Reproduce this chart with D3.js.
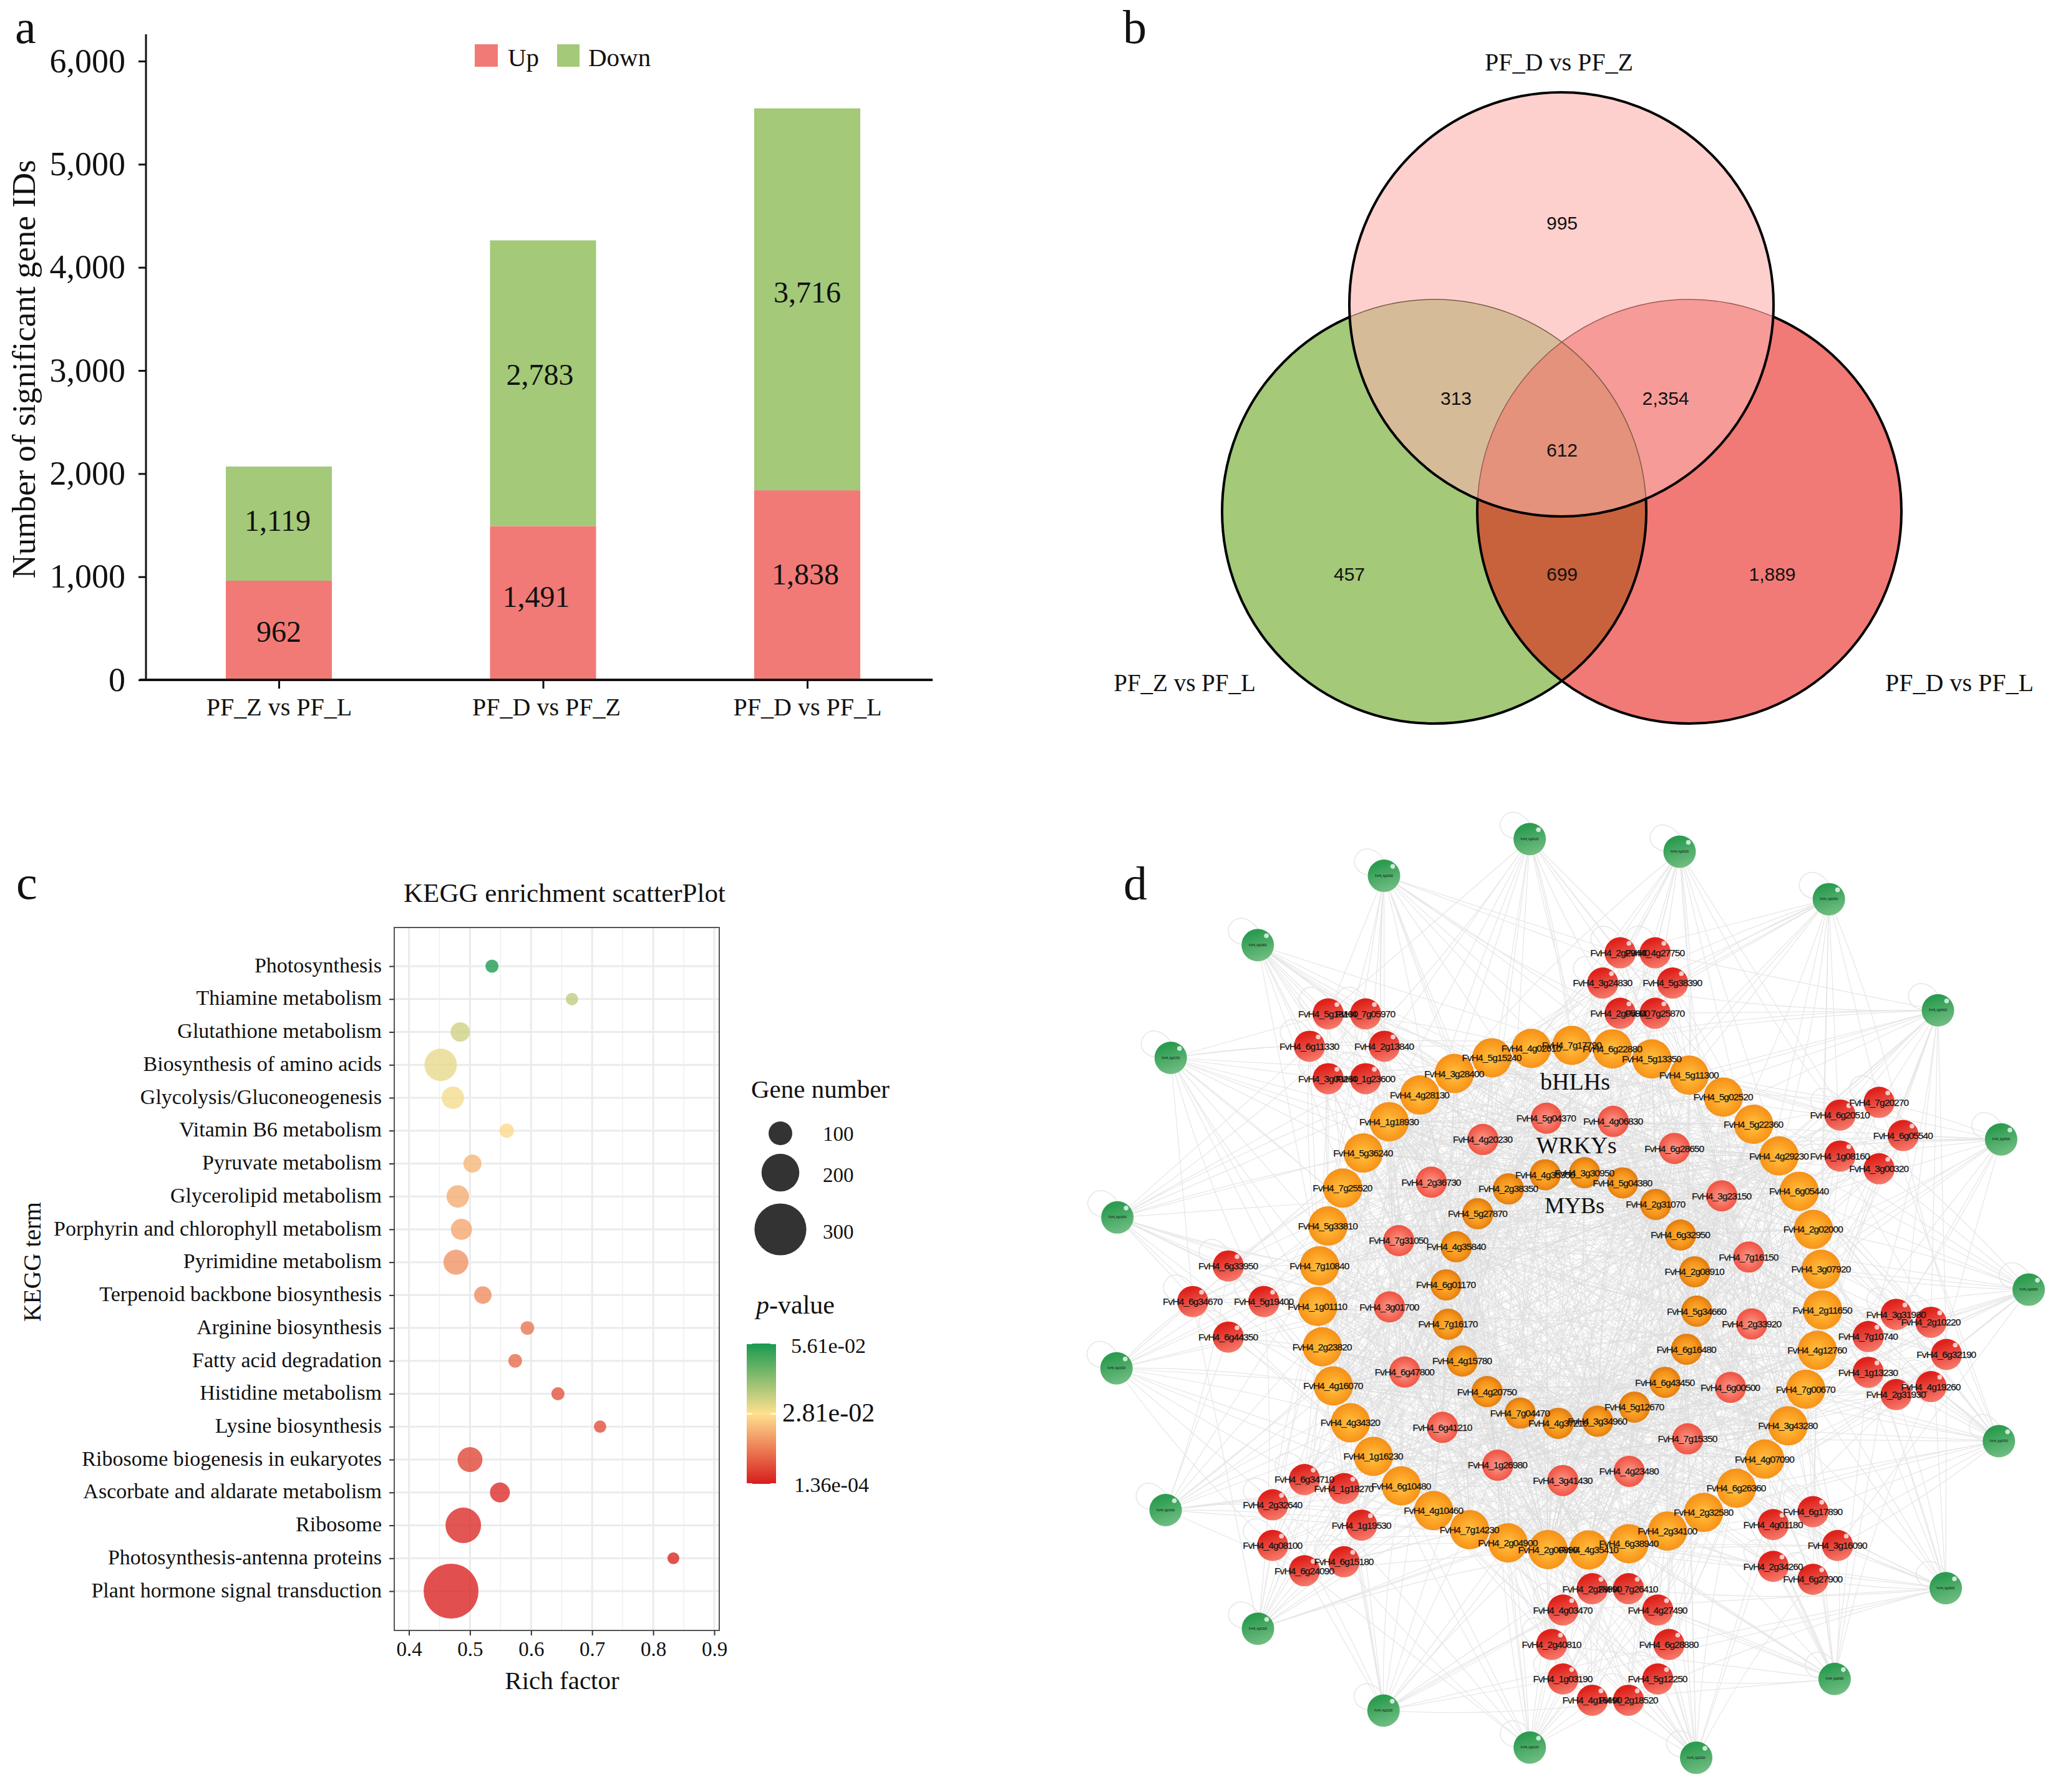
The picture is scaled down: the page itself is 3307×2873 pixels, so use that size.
<!DOCTYPE html>
<html><head><meta charset="utf-8">
<script src="https://cdn.jsdelivr.net/npm/d3@7"></script>
<style>
html,body{margin:0;padding:0;background:#fff}
svg{display:block}
text{font-family:"Liberation Serif","Times New Roman",serif;fill:#111}
.sans{font-family:"Liberation Sans",Arial,sans-serif}
</style></head><body><svg id="c" width="3307" height="2873" viewBox="0 0 3307 2873"></svg>
<script>
// ---------- data: panel a
const barCategories=["PF_Z vs PF_L","PF_D vs PF_Z","PF_D vs PF_L"];
const upValues=[962,1491,1838];
const downValues=[1119,2783,3716];
const barTicks=[0,1000,2000,3000,4000,5000,6000];
// ---------- data: panel b
const vennSets=["PF_D vs PF_Z","PF_Z vs PF_L","PF_D vs PF_L"];
const vennCounts={onlyTop:995,topLeft:313,topRight:2354,all:612,onlyLeft:457,leftRight:699,onlyRight:1889};
// ---------- data: panel c
const keggTerms=["Photosynthesis","Thiamine metabolism","Glutathione metabolism","Biosynthesis of amino acids","Glycolysis/Gluconeogenesis","Vitamin B6 metabolism","Pyruvate metabolism","Glycerolipid metabolism","Porphyrin and chlorophyll metabolism","Pyrimidine metabolism","Terpenoid backbone biosynthesis","Arginine biosynthesis","Fatty acid degradation","Histidine metabolism","Lysine biosynthesis","Ribosome biogenesis in eukaryotes","Ascorbate and aldarate metabolism","Ribosome","Photosynthesis-antenna proteins","Plant hormone signal transduction"];
const richFactor=[.536,.667,.484,.452,.472,.560,.504,.480,.486,.477,.521,.594,.574,.644,.713,.500,.549,.489,.833,.469];
const geneNumber=[25,20,69,162,91,34,60,91,82,109,56,29,29,25,20,109,73,184,16,321];
const pValue=[.0561,.036,.034,.031,.0295,.027,.022,.0205,.0195,.017,.016,.0125,.011,.0075,.007,.0055,.002,.0015,.0012,.0005];
const geneLegend=[100,200,300];
const richTicks=[.4,.5,.6,.7,.8,.9];
// ---------- data: panel d
const greenGenes=["FvH4_4g00100","FvH4_4g00200","FvH4_4g00300","FvH4_4g00400","FvH4_4g00500","FvH4_4g00600","FvH4_4g00700","FvH4_4g00800","FvH4_4g00900","FvH4_4g01000","FvH4_4g01100","FvH4_4g01200","FvH4_4g01300","FvH4_4g01400","FvH4_4g01500","FvH4_4g01600","FvH4_4g01700","FvH4_4g01800","FvH4_4g01900"];
const bhlhGenes=["FvH4_7g17790","FvH4_6g22880","FvH4_5g13350","FvH4_5g11300","FvH4_5g02520","FvH4_5g22360","FvH4_4g29230","FvH4_6g05440","FvH4_2g02000","FvH4_3g07920","FvH4_2g11650","FvH4_4g12760","FvH4_7g00670","FvH4_3g43280","FvH4_4g07090","FvH4_6g26360","FvH4_2g32580","FvH4_2g34100","FvH4_6g38940","FvH4_4g35410","FvH4_2g00890","FvH4_2g04900","FvH4_7g14230","FvH4_4g10460","FvH4_6g10480","FvH4_1g16230","FvH4_4g34320","FvH4_4g16070","FvH4_2g23820","FvH4_1g01110","FvH4_7g10840","FvH4_5g33810","FvH4_7g25520","FvH4_5g36240","FvH4_1g18930","FvH4_4g28130","FvH4_3g28400","FvH4_5g15240","FvH4_4g02610"];
const wrkyGenes=["FvH4_5g04370","FvH4_4g06830","FvH4_6g28650","FvH4_3g23150","FvH4_7g16150","FvH4_2g33920","FvH4_6g00500","FvH4_7g15350","FvH4_4g23480","FvH4_3g41430","FvH4_1g26980","FvH4_6g41210","FvH4_6g47800","FvH4_3g01700","FvH4_7g31050","FvH4_2g36730","FvH4_4g20230"];
const mybGenes=["FvH4_3g30950","FvH4_5g04380","FvH4_2g31070","FvH4_6g32950","FvH4_2g08910","FvH4_5g34660","FvH4_6g16480","FvH4_6g43450","FvH4_5g12670","FvH4_3g34960","FvH4_4g37210","FvH4_7g04470","FvH4_4g20750","FvH4_4g15780","FvH4_7g16170","FvH4_6g01170","FvH4_4g35840","FvH4_5g27870","FvH4_2g38350","FvH4_4g35350"];
const redClusters=[
 ["FvH4_2g13840","FvH4_1g23600","FvH4_3g00280","FvH4_6g11330","FvH4_5g18100","FvH4_7g05970"],
 ["FvH4_5g38390","FvH4_7g25870","FvH4_2g05900","FvH4_3g24830","FvH4_2g29440","FvH4_4g27750"],
 ["FvH4_6g05540","FvH4_3g00320","FvH4_1g08160","FvH4_6g20510","FvH4_7g20270"],
 ["FvH4_6g32190","FvH4_4g19260","FvH4_2g31930","FvH4_1g13230","FvH4_7g10740","FvH4_3g31980","FvH4_2g10220"],
 ["FvH4_3g16090","FvH4_6g27900","FvH4_2g34260","FvH4_4g01180","FvH4_6g17890"],
 ["FvH4_6g28880","FvH4_5g12250","FvH4_2g18520","FvH4_4g16490","FvH4_1g03190","FvH4_2g40810","FvH4_4g03470","FvH4_2g28890","FvH4_7g26410","FvH4_4g27490"],
 ["FvH4_1g19530","FvH4_6g15180","FvH4_6g24090","FvH4_4g08100","FvH4_2g32640","FvH4_6g34710","FvH4_1g18270"],
 ["FvH4_5g19400","FvH4_6g44350","FvH4_6g34670","FvH4_6g33950"]
];
const familyLabels=["bHLHs","WRKYs","MYBs"];

const svg=d3.select("#c");
svg.append("rect").attr("width",3307).attr("height",2873).attr("fill","#fff");
const RED="#f17a76",GREEN="#a3c979";
function txt(g,x,y,s,size,anchor="middle",cls=null){
  const t=g.append("text").attr("x",x).attr("y",y).attr("dy",".35em").attr("font-size",size).attr("text-anchor",anchor).text(s);
  if(cls)t.attr("class",cls);return t;
}
[["a",24,69],["b",1800,69],["c",26,1441],["d",1801,1442]].forEach(([s,x,y])=>{
  svg.append("text").attr("x",x).attr("y",y).attr("font-size",76).text(s);
});

// ===== panel a =====
(function(){
  const g=svg.append("g");
  const y=d3.scaleLinear().domain([0,6000]).range([1090,98]);
  const x=d3.scalePoint().domain(barCategories).range([447,1294]);
  const w=170;
  const dyUp=[2,-11,-18],dyDown=[-4,-13,-11],dxUp=[0,-11,-3],dxDown=[-2,-5,0];
  barCategories.forEach((c,i)=>{
    g.append("rect").attr("x",x(c)-w/2).attr("width",w).attr("y",y(upValues[i])).attr("height",y(0)-y(upValues[i])-2).attr("fill",RED);
    g.append("rect").attr("x",x(c)-w/2).attr("width",w).attr("y",y(upValues[i]+downValues[i])+2).attr("height",y(upValues[i])-y(upValues[i]+downValues[i])-2).attr("fill",GREEN);
    const f=d3.format(",");
    txt(g,x(c)+dxUp[i],y(upValues[i]/2)+dyUp[i],f(upValues[i]),48);
    txt(g,x(c)+dxDown[i],y(upValues[i]+downValues[i]/2)+dyDown[i],f(downValues[i]),48);
  });
  const ay=g.append("g").attr("transform","translate(234,0)").call(d3.axisLeft(y).tickValues(barTicks).tickFormat(d3.format(",")).tickSize(12).tickPadding(21));
  ay.select(".domain").remove();
  ay.selectAll("line").attr("stroke","#111").attr("stroke-width",3);
  ay.selectAll("text").attr("font-size",54).attr("fill","#111");
  g.append("line").attr("x1",234).attr("x2",234).attr("y1",55).attr("y2",1090).attr("stroke","#111").attr("stroke-width",3);
  const ax=g.append("g").attr("transform","translate(0,1090)").call(d3.axisBottom(x).tickSize(14).tickPadding(15));
  ax.select(".domain").remove();
  ax.selectAll("line").attr("stroke","#111").attr("stroke-width",3);
  ax.selectAll("text").attr("font-size",40).attr("fill","#111").attr("dx",(d,i)=>i===1?5:0);
  g.append("line").attr("x1",224).attr("x2",1495).attr("y1",1090).attr("y2",1090).attr("stroke","#111").attr("stroke-width",4);
  g.append("text").attr("transform","translate(56,592) rotate(-90)").attr("text-anchor","middle").attr("font-size",53).text("Number of significant gene IDs");
  g.append("rect").attr("x",761).attr("y",71).attr("width",37).attr("height",36).attr("fill",RED);
  g.append("rect").attr("x",893).attr("y",71).attr("width",36).attr("height",36).attr("fill",GREEN);
  txt(g,814,92,"Up",41,"start");
  txt(g,943,92,"Down",41,"start");
})();

// ===== panel b =====
(function(){
  const g=svg.append("g");
  const C={top:[2503,488],left:[2299,820],right:[2708,820]},R=340;
  const defs=svg.append("defs");
  Object.entries(C).forEach(([k,c])=>{
    defs.append("clipPath").attr("id","clip-"+k).append("circle").attr("cx",c[0]).attr("cy",c[1]).attr("r",R);
  });
  const circ=(p,c,fill)=>p.append("circle").attr("cx",c[0]).attr("cy",c[1]).attr("r",R).attr("fill",fill);
  const clipped=(parent,...names)=>{let s=parent;names.forEach(n=>{s=s.append("g").attr("clip-path",`url(#clip-${n})`)});return s;};
  circ(g,C.left,GREEN);circ(g,C.right,RED);
  circ(clipped(g,"left"),C.right,"#c8623d");
  circ(g,C.left,"none").attr("stroke","#000").attr("stroke-width",4);
  circ(g,C.right,"none").attr("stroke","#000").attr("stroke-width",4);
  circ(g,C.top,"#fdd0ce");
  circ(clipped(g,"top"),C.left,"#d6bb98");
  circ(clipped(g,"top"),C.right,"#f69b97");
  circ(clipped(g,"top","left"),C.right,"#e4927c");
  const inner=clipped(g,"top");
  circ(inner,C.left,"none").attr("stroke","#7a5a48").attr("stroke-width",1.5);
  circ(inner,C.right,"none").attr("stroke","#9a5a55").attr("stroke-width",1.5);
  circ(g,C.top,"none").attr("stroke","#000").attr("stroke-width",4);
  const f=d3.format(",");
  [["onlyTop",2504,357],["topLeft",2334,638],["topRight",2670,638],["all",2504,721],["onlyLeft",2163,920],["leftRight",2504,920],["onlyRight",2841,920]].forEach(([k,x,y])=>{
    txt(g,x,y,f(vennCounts[k]),30,"middle","sans");
  });
  txt(g,2499,99,vennSets[0],40);
  txt(g,1899,1094,vennSets[1],39);
  txt(g,3141,1094,vennSets[2],40);
})();

// ===== panel c =====
(function(){
  const g=svg.append("g");
  const L=632,Rt=1153,T=1487,B=2614;
  const x=d3.scaleLinear().domain([.4,.9]).range([655.5,1145]);
  const y=d3.scalePoint().domain(keggTerms).range([1549,2551]);
  const r=d3.scaleLinear().domain([100,300]).range([19,41.6]);
  const col=d3.scaleLinear().domain([.000136,.0281,.0561]).range(["#d81c1c","#ffe08f","#189a50"]);
  d3.range(.4,.9001,.1).forEach(v=>g.append("line").attr("x1",x(v)).attr("x2",x(v)).attr("y1",T).attr("y2",B).attr("stroke","#ebebeb").attr("stroke-width",3));
  d3.range(.45,.9,.1).forEach(v=>g.append("line").attr("x1",x(v)).attr("x2",x(v)).attr("y1",T).attr("y2",B).attr("stroke","#efefef").attr("stroke-width",1.5));
  keggTerms.forEach(t=>g.append("line").attr("x1",L).attr("x2",Rt).attr("y1",y(t)).attr("y2",y(t)).attr("stroke","#ebebeb").attr("stroke-width",3));
  g.selectAll("circle.dot").data(keggTerms).join("circle").attr("class","dot")
    .attr("cx",(d,i)=>x(richFactor[i])).attr("cy",d=>y(d)).attr("r",(d,i)=>r(geneNumber[i]))
    .attr("fill",(d,i)=>col(pValue[i])).attr("fill-opacity",.78);
  g.append("rect").attr("x",L).attr("y",T).attr("width",Rt-L).attr("height",B-T).attr("fill","none").attr("stroke","#555").attr("stroke-width",2);
  const ax=g.append("g").attr("transform",`translate(0,${B})`).call(d3.axisBottom(x).tickValues(richTicks).tickFormat(d3.format(".1f")).tickSize(8).tickPadding(10));
  ax.select(".domain").remove();ax.selectAll("line").attr("stroke","#333").attr("stroke-width",2);
  ax.selectAll("text").attr("font-size",33).attr("fill","#222");
  const ay=g.append("g").attr("transform",`translate(${L},0)`).call(d3.axisLeft(y).tickSize(8).tickPadding(12));
  ay.select(".domain").remove();ay.selectAll("line").attr("stroke","#333").attr("stroke-width",2);
  ay.selectAll("text").attr("font-size",34).attr("fill","#222").attr("dy",".27em");
  txt(g,905,1431,"KEGG enrichment scatterPlot",43);
  txt(g,901,2694,"Rich factor",41);
  g.append("text").attr("transform","translate(51,2023) rotate(-90)").attr("dy",".35em").attr("text-anchor","middle").attr("font-size",39.5).text("KEGG term");
  txt(g,1204,1746,"Gene number",41,"start");
  const ly=[1817,1880,1971],lty=[1817,1883,1974];
  geneLegend.forEach((v,i)=>{
    g.append("circle").attr("cx",1251).attr("cy",ly[i]).attr("r",r(v)).attr("fill","#333");
    txt(g,1319,lty[i],String(v),33,"start");
  });
  const pt=txt(g,1212,2091,"",42,"start");
  pt.append("tspan").attr("font-style","italic").text("p");
  pt.append("tspan").text("-value");
  const by=d3.scaleLinear().domain([.000136,.0561]).range([2379,2154]);
  const grad=svg.select("defs").append("linearGradient").attr("id","pgrad").attr("x1",0).attr("x2",0).attr("y1",1).attr("y2",0);
  col.domain().forEach(v=>grad.append("stop").attr("offset",(2379-by(v))/225).attr("stop-color",col(v)));
  g.append("rect").attr("x",1197).attr("y",2154).attr("width",47).attr("height",225).attr("fill","url(#pgrad)");
  col.domain().forEach(v=>{
    [[1197,1206],[1235,1244]].forEach(([a,b])=>g.append("line").attr("x1",a).attr("x2",b).attr("y1",by(v)).attr("y2",by(v)).attr("stroke","#fff").attr("stroke-width",2));
  });
  txt(g,1268,2157,"5.61e-02",34,"start");
  txt(g,1254,2264,"2.81e-02",42,"start");
  txt(g,1273,2380,"1.36e-04",34,"start");
})();

// ===== panel d =====
(function(){
  const g=svg.append("g");
  const defs=svg.select("defs");
  const lin=(id,a,b)=>{const l=defs.append("linearGradient").attr("id",id).attr("x1",.25).attr("x2",.6).attr("y1",0).attr("y2",1);
    l.append("stop").attr("offset",.15).attr("stop-color",a);l.append("stop").attr("offset",1).attr("stop-color",b);};
  const rad=(id,stops)=>{const l=defs.append("radialGradient").attr("id",id).attr("cx",.5).attr("cy",.52).attr("r",.52);
    stops.forEach(([o,c])=>l.append("stop").attr("offset",o).attr("stop-color",c));};
  lin("gGreen","#2c9c50","#72be83");
  lin("gRed","#df221b","#f67b6c");
  rad("gOrange",[[0,"#ffc548"],[.55,"#fda526"],[1,"#f49018"]]);
  rad("gMyb",[[0,"#ffb636"],[.65,"#f5931a"],[1,"#de7a10"]]);
  rad("gCoral",[[0,"#fba090"],[.6,"#f56d5d"],[1,"#ef5241"]]);
  const rad2=Math.PI/180;
  const ring=(names,cx,cy,R,start,r,type,fill)=>names.map((name,i)=>{
    const a=(start+i*360/names.length)*rad2;
    const [dx,dy]=d3.pointRadial(a,R);
    return {name,x:cx+dx,y:cy+dy,r,type,fill,ang:a};
  });
  // the outer ring is not quite a circle in the reference: per-node polar placement
  const greenAng=[-5.4,13.6,33,52.2,70.2,89.5,109.1,128.3,145.8,165.1,185.4,204.4,223.2,242,260.7,279.5,300.4,317.9,335.7];
  const greenDist=[732,729,754,741,730,731,723,762,747,770,731,734,737,739,741,740,747,753,735];
  const green=greenGenes.map((name,i)=>{
    const a=greenAng[i]*rad2,[dx,dy]=d3.pointRadial(a,greenDist[i]);
    return {name,x:2521+dx,y:2074+dy,r:26,type:"green",fill:"url(#gGreen)",ang:a};
  });
  const bhlh=ring(bhlhGenes,2517,2081,405,.4,31.5,"bhlh","url(#gOrange)");
  const wrky=ring(wrkyGenes,2519,2082,292,-7.9,25,"wrky","url(#gCoral)");
  const myb=ring(mybGenes,2519,2081,202,6,25,"myb","url(#gMyb)");
  const clAngle=[-41.8,11.9,61.4,99.7,137.1,173.6,228.4,269.3];
  const clDist=[540,515,542,543,543,560,550,550];
  const clR=[60,56,56,66,57,94,75,57];
  const red=[];
  redClusters.forEach((names,k)=>{
    const [cx,cy]=d3.pointRadial(clAngle[k]*rad2,clDist[k]);
    ring(names,2519+cx,2080+cy,clR[k],90,25,"red","url(#gRed)").forEach(n=>{n.ang=clAngle[k]*rad2;red.push(n);});
  });
  const hubs=[...bhlh,...myb,...wrky];
  const angDiff=(a,b)=>{let d=Math.abs(a-b)/rad2%360;return d>180?360-d:d;};
  const meshEdges=[],spokeEdges=[];
  hubs.forEach((a,i)=>hubs.forEach((b,j)=>{
    const span=angDiff(a.ang,b.ang);
    if(j>i&&((i+1)*(j+1))%7<(span>120?2:4))meshEdges.push([a,b]);
  }));
  green.forEach((a,i)=>{
    hubs.forEach((b,j)=>{
      const d=angDiff(a.ang,b.ang);
      if((d<62&&(i*3+j)%3===0)||(d<120&&(i+j)%13===0))spokeEdges.push([a,b]);
    });
    red.forEach((b,j)=>{
      const d=angDiff(a.ang,b.ang);
      if(d<48&&(i+j)%2===0)spokeEdges.push([a,b]);
    });
  });
  red.forEach((a,i)=>hubs.forEach((b,j)=>{
    const d=angDiff(a.ang,b.ang);
    if((d<42&&(i+j)%3===0)||(d<110&&(i*2+j)%17===0))spokeEdges.push([a,b]);
  }));
  const edgePath=(e,i)=>{
    const [a,b]=e;
    if(i%3)return `M${a.x},${a.y}L${b.x},${b.y}`;
    const k=(i%2?1:-1)*.05;
    const mx=(a.x+b.x)/2-(b.y-a.y)*k,my=(a.y+b.y)/2+(b.x-a.x)*k;
    return `M${a.x},${a.y}Q${mx},${my} ${b.x},${b.y}`;
  };
  g.append("g").attr("fill","none").attr("stroke","#e6e6e6").attr("stroke-width",1.2)
    .selectAll("path").data(spokeEdges).join("path").attr("d",edgePath);
  g.append("g").attr("fill","none").attr("stroke","#dcdcdc").attr("stroke-width",1).attr("stroke-opacity",.7)
    .selectAll("path").data(meshEdges).join("path").attr("d",edgePath);
  const looped=[...green,...red];
  g.append("g").attr("fill","none").attr("stroke","#e6e6e6").attr("stroke-width",1.5)
    .selectAll("path").data(looped).join("path")
    .attr("d",d=>`M${d.x-d.r},${d.y-1}C${d.x-72},${d.y-12} ${d.x-34},${d.y-72} ${d.x},${d.y-d.r}`);
  const all=[...green,...red,...bhlh,...wrky,...myb];
  g.append("g").selectAll("circle").data(all).join("circle")
    .attr("cx",d=>d.x).attr("cy",d=>d.y).attr("r",d=>d.r).attr("fill",d=>d.fill);
  const shiny=[...green,...red];
  g.append("g").selectAll("circle").data(shiny).join("circle")
    .attr("cx",d=>d.x+14).attr("cy",d=>d.y-15).attr("r",3.8).attr("fill","#fff").attr("fill-opacity",.75);
  g.append("g").selectAll("text").data(all).join("text")
    .attr("class","sans")
    .attr("x",d=>d.x).attr("y",d=>d.y).attr("dy",".35em").attr("text-anchor","middle")
    .attr("font-size",d=>d.type==="green"?4.5:15.5)
    .attr("textLength",d=>d.type==="green"?29:96).attr("lengthAdjust","spacing")
    .attr("stroke","#1a1a1a").attr("stroke-width",d=>d.type==="green"?0:.25)
    .attr("fill","#1a1a1a").text(d=>d.name);
  txt(g,2525,1734,familyLabels[0],38);
  txt(g,2527,1836,familyLabels[1],37.5);
  txt(g,2524,1932,familyLabels[2],36);
})();
</script></body></html>
